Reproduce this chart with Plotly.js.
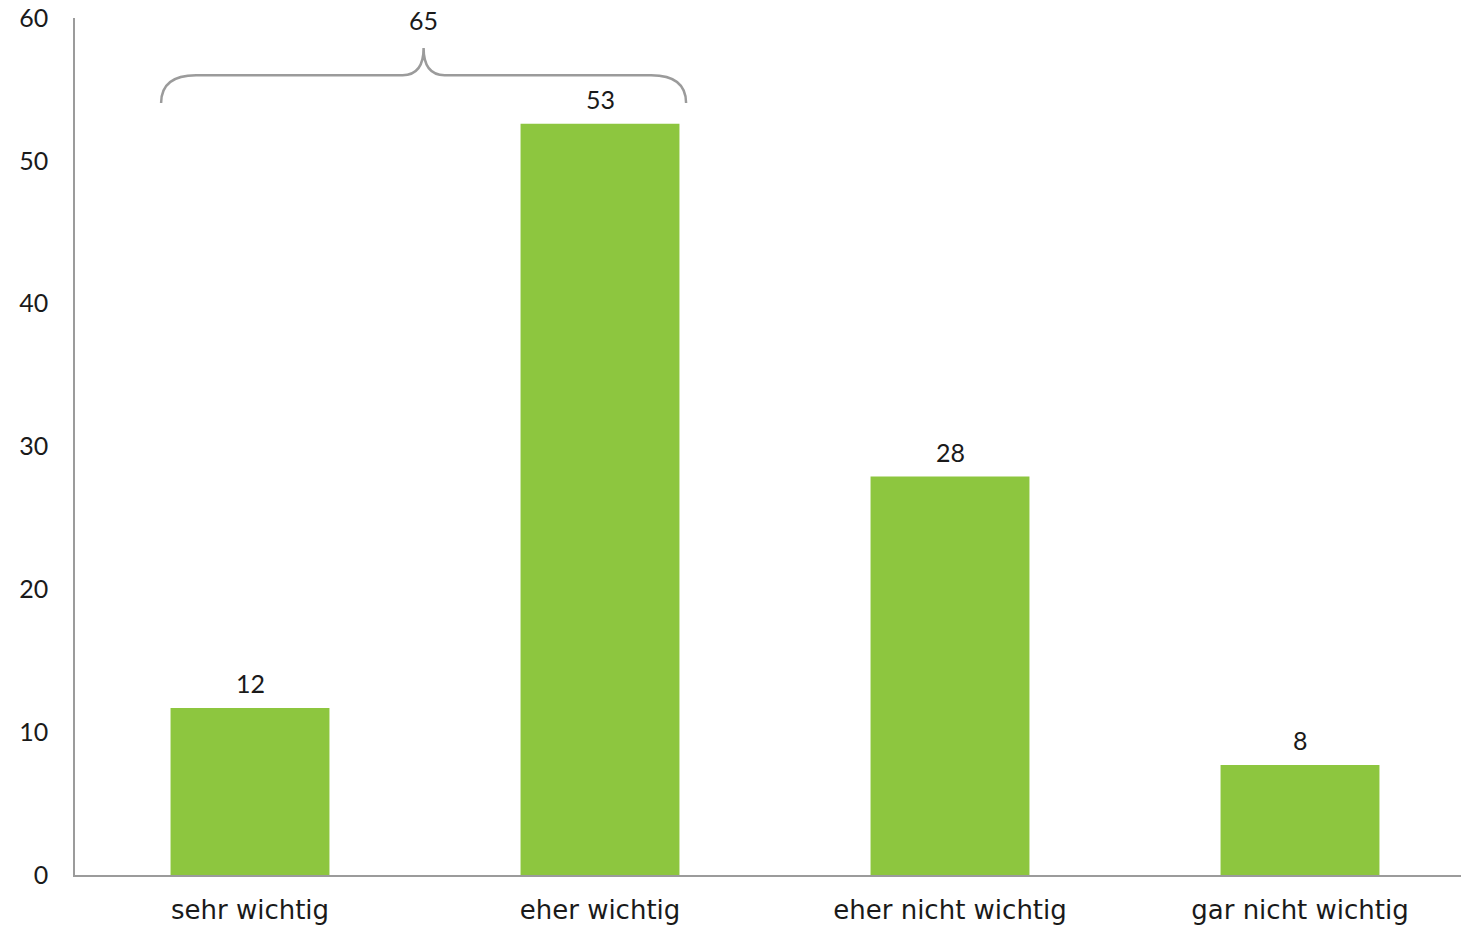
<!DOCTYPE html>
<html>
<head>
<meta charset="utf-8">
<script src="https://cdn.plot.ly/plotly-3.0.1.min.js"></script>
<style>html,body{margin:0;padding:0;background:#fff;}#chart{width:1461px;height:927px;}</style>
</head>
<body>
<div id="chart"></div>
<script>
const categories = ["sehr wichtig", "eher wichtig", "eher nicht wichtig", "gar nicht wichtig"];
const values = [11.7, 52.6, 27.9, 7.7];
const yTicks = [0, 10, 20, 30, 40, 50, 60];
const bracketLeft = -0.254, bracketRight = 1.246, bracketMid = 0.496;
const bracketBase = 54.05, bracketLevel = 56.0, bracketPeak = 57.9;
const combinedLabel = String(Math.round(values[0]) + Math.round(values[1]));

const FONT = "Lato, 'Open Sans', sans-serif";
const CATFONT = "'DejaVu Sans', sans-serif";
const grey = "#9b9b9b";

const trace = {
  type: "bar",
  x: categories,
  y: values,
  marker: {color: "#8dc63f"},
  hoverinfo: "x+y"
};

const L = bracketLeft, R = bracketRight, M = bracketMid;
const cw = 0.1, cc = 0.06;
const path = `M ${L},${bracketBase} Q ${L},${bracketLevel} ${L+cw},${bracketLevel} ` +
  `L ${M-cc},${bracketLevel} Q ${M},${bracketLevel} ${M},${bracketPeak} ` +
  `Q ${M},${bracketLevel} ${M+cc},${bracketLevel} ` +
  `L ${R-cw},${bracketLevel} Q ${R},${bracketLevel} ${R},${bracketBase}`;

const barLabels = categories.map((c, i) => ({
  x: c, y: values[i], xref: "x", yref: "y",
  text: String(Math.round(values[i])), showarrow: false,
  yanchor: "bottom", yshift: 8,
  font: {family: FONT, size: 25, color: "#1a1a1a"}
}));

const layout = {
  width: 1461, height: 927,
  margin: {l: 75, r: 0, t: 18, b: 52},
  paper_bgcolor: "#fff", plot_bgcolor: "#fff",
  showlegend: false,
  bargap: 0.546,
  font: {family: FONT, size: 25, color: "#1a1a1a"},
  xaxis: {
    type: "category",
    range: [-0.5, 3.46],
    showline: true, linecolor: grey, linewidth: 1.5,
    showgrid: false, zeroline: false, ticks: "",
    ticklabelstandoff: 11,
    tickfont: {family: CATFONT, size: 26, color: "#1a1a1a"}
  },
  yaxis: {
    range: [0, 60],
    tickvals: yTicks,
    showline: true, linecolor: grey, linewidth: 1.5,
    showgrid: false, zeroline: false, ticks: "",
    ticklabelstandoff: 20,
    tickfont: {family: FONT, size: 25, color: "#1a1a1a"}
  },
  shapes: [{
    type: "path", xref: "x", yref: "y", path: path,
    line: {color: grey, width: 2.5}, layer: "above"
  }],
  annotations: barLabels.concat([{
    x: M, y: bracketPeak, xref: "x", yref: "y",
    text: combinedLabel, showarrow: false,
    yanchor: "bottom", yshift: 11,
    font: {family: FONT, size: 25, color: "#1a1a1a"}
  }])
};

Plotly.newPlot("chart", [trace], layout, {displayModeBar: false, responsive: false});
</script>
</body>
</html>
